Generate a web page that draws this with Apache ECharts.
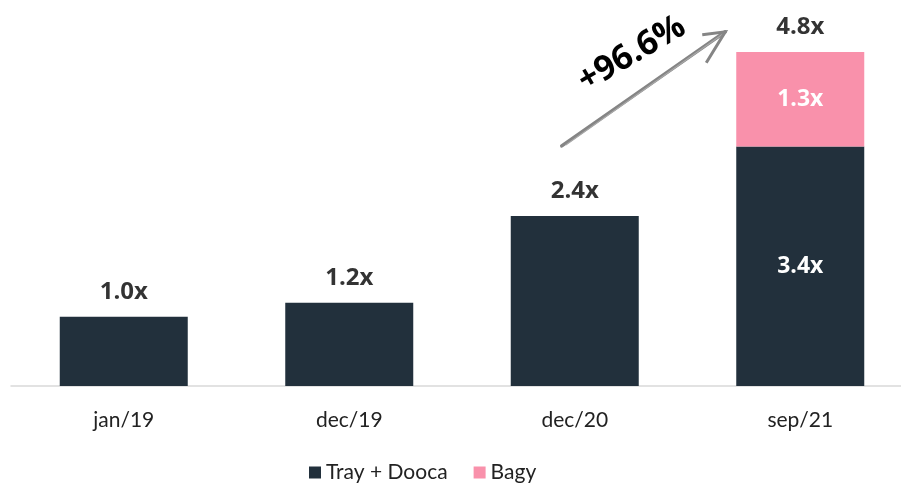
<!DOCTYPE html>
<html><head><meta charset="utf-8">
<script src="https://cdn.jsdelivr.net/npm/echarts@6/dist/echarts.min.js"></script>
<style>html,body{margin:0;padding:0;background:#fff;overflow:hidden}#c{width:913px;height:484px}</style>
</head><body><div id="c"></div>
<script>
const categories = ['jan/19', 'dec/19', 'dec/20', 'sep/21'];
const trayDooca = [0.99, 1.19, 2.43, 3.42];
const bagy = [null, null, null, 1.35];
const seriesNames = ['Tray + Dooca', 'Bagy'];
const growthLabel = '+96.6%';

const FONT = 'Lato, "Open Sans", sans-serif';
const BFONT = '"Open Sans", Lato, sans-serif';
const totals = categories.map((c, i) => +(trayDooca[i] + (bagy[i] || 0)).toFixed(2));
const fmt = v => v.toFixed(1) + 'x';

const chart = echarts.init(document.getElementById('c'), null, {renderer: 'canvas'});
chart.setOption({
  animation: false,
  textStyle: {fontFamily: FONT},
  grid: {left: 11, right: 0, top: 36, bottom: 98, containLabel: false},
  legend: {
    top: 457, left: 304, itemWidth: 12, itemHeight: 12, itemGap: 26,
    data: seriesNames, icon: 'rect',
    textStyle: {fontSize: 21, color: '#222', fontFamily: FONT}
  },
  xAxis: {
    type: 'category', data: categories,
    axisLine: {lineStyle: {color: '#d9d9d9', width: 1.5}},
    axisTick: {show: false},
    axisLabel: {fontSize: 21, color: '#222', margin: 24, fontFamily: FONT}
  },
  yAxis: {type: 'value', min: 0, max: 5, show: false, splitLine: {show: false}},
  series: [
    {
      name: seriesNames[0], type: 'bar', stack: 's', barWidth: 128,
      itemStyle: {color: '#22303c'},
      data: trayDooca.map((v, i) => ({
        value: v,
        label: bagy[i] ? {show: true, position: 'inside', color: '#fff', fontWeight: 'bold', fontSize: 23, fontFamily: BFONT, formatter: fmt(v)} : {show: false}
      }))
    },
    {
      name: seriesNames[1], type: 'bar', stack: 's', barWidth: 128,
      itemStyle: {color: '#f991ab'},
      label: {show: true, position: 'inside', color: '#fff', fontWeight: 'bold', fontSize: 23, fontFamily: BFONT, formatter: p => fmt(1.3)},
      data: bagy
    },
    {
      name: 'total', type: 'scatter', symbolSize: 0, silent: true,
      label: {show: true, position: 'top', distance: 13, color: '#000', fontWeight: 'bold', fontSize: 24, fontFamily: BFONT,
        formatter: p => fmt(p.value)},
      data: totals
    }
  ]
});

// growth arrow annotation between dec/20 and sep/21
const p0 = chart.convertToPixel({xAxisIndex: 0, yAxisIndex: 0}, [2, 3.43]);
const p1 = chart.convertToPixel({xAxisIndex: 0, yAxisIndex: 0}, [3, 5.06]);
const start = [p0[0] - 13, p0[1]];
const tip = [p1[0] - 75, p1[1]];
chart.setOption({
  graphic: [
    {type: 'line', shape: {x1: start[0], y1: start[1], x2: tip[0], y2: tip[1]}, style: {stroke: '#858585', lineWidth: 3.5, lineCap: 'round'}},
    {type: 'line', shape: {x1: start[0] + 4, y1: start[1] - 1, x2: tip[0] - 2, y2: tip[1] + 2}, style: {stroke: '#a8a8a8', lineWidth: 1.2}},
    {type: 'polyline', shape: {points: [[tip[0] - 23, tip[1] + 3], tip, [tip[0] - 19, tip[1] + 31]]}, style: {stroke: '#858585', lineWidth: 3, fill: null, lineJoin: 'miter'}},
    {type: 'text', x: start[0] + 70, y: start[1] - 92, rotation: 0.53,
      style: {text: growthLabel, fontSize: 34, fontWeight: 'bold', fill: '#000', fontFamily: BFONT, align: 'center', verticalAlign: 'middle'}}
  ]
});
</script></body></html>
